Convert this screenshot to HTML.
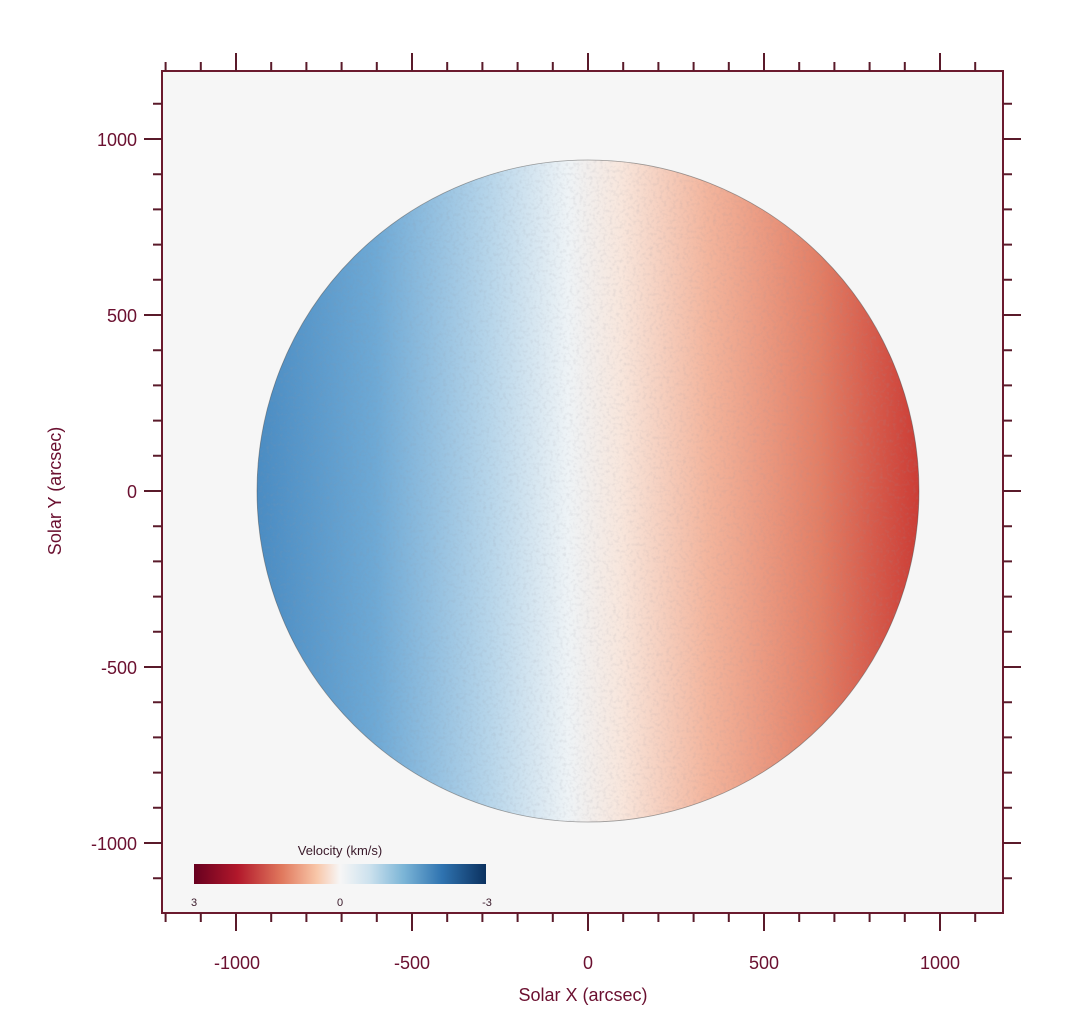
<!DOCTYPE html>
<html><head><meta charset="utf-8"><style>
html,body{margin:0;padding:0;background:#fff;}
svg{display:block;font-family:"Liberation Sans",sans-serif;}
</style></head><body>
<svg width="1080" height="1022" viewBox="0 0 1080 1022" xmlns="http://www.w3.org/2000/svg">
<defs>
<linearGradient id="sun" x1="256" y1="0" x2="920" y2="0" gradientUnits="userSpaceOnUse">
<stop offset="0" stop-color="#4a8cc3"/>
<stop offset="0.18" stop-color="#6ea9d5"/>
<stop offset="0.35" stop-color="#b6d5ea"/>
<stop offset="0.47" stop-color="#eef3f6"/>
<stop offset="0.55" stop-color="#f8e6dc"/>
<stop offset="0.68" stop-color="#f3b59d"/>
<stop offset="0.85" stop-color="#e27e65"/>
<stop offset="1" stop-color="#cc3c35"/>
</linearGradient>
<linearGradient id="cb" x1="0" x2="1">
<stop offset="0" stop-color="#67001f"/>
<stop offset="0.15" stop-color="#b2182b"/>
<stop offset="0.3" stop-color="#e0785d"/>
<stop offset="0.42" stop-color="#f8c6a8"/>
<stop offset="0.5" stop-color="#f7f6f6"/>
<stop offset="0.6" stop-color="#cde2ee"/>
<stop offset="0.72" stop-color="#7ab4d6"/>
<stop offset="0.85" stop-color="#2f73b0"/>
<stop offset="1" stop-color="#0b315f"/>
</linearGradient>
<filter id="noise" x="0" y="0" width="100%" height="100%">
<feTurbulence type="fractalNoise" baseFrequency="0.3" numOctaves="2" seed="3"/>
<feColorMatrix type="matrix" values="0 0 0 0 0.3  0 0 0 0 0.3  0 0 0 0 0.35  0 0 0 1.6 -0.75"/>
</filter>
<clipPath id="disk"><circle cx="588" cy="491" r="331"/></clipPath>
</defs>
<rect x="162" y="71" width="841" height="842" fill="#f6f6f6"/>
<circle cx="588" cy="491" r="331" fill="url(#sun)"/>
<g clip-path="url(#disk)" opacity="0.25">
<rect x="250" y="155" width="680" height="680" filter="url(#noise)"/>
</g>
<circle cx="588" cy="491" r="331" fill="none" stroke="#444" stroke-opacity="0.5" stroke-width="0.8"/>
<rect x="162" y="71" width="841" height="842" fill="none" stroke="#6b1a2e" stroke-width="2"/>
<g stroke="#5a1a2a" stroke-width="2" fill="none">
<path d="M165.6 71V62M200.8 71V62M236 71V53M271.2 71V62M306.4 71V62M341.6 71V62M376.8 71V62M412 71V53M447.2 71V62M482.4 71V62M517.6 71V62M552.8 71V62M588 71V53M623.2 71V62M658.4 71V62M693.6 71V62M728.8 71V62M764 71V53M799.2 71V62M834.4 71V62M869.6 71V62M904.8 71V62M940 71V53M975.2 71V62"/>
<path d="M165.6 913V922M200.8 913V922M236 913V931M271.2 913V922M306.4 913V922M341.6 913V922M376.8 913V922M412 913V931M447.2 913V922M482.4 913V922M517.6 913V922M552.8 913V922M588 913V931M623.2 913V922M658.4 913V922M693.6 913V922M728.8 913V922M764 913V931M799.2 913V922M834.4 913V922M869.6 913V922M904.8 913V922M940 913V931M975.2 913V922"/>
<path d="M162 103.8H153M162 139H144M162 174.2H153M162 209.4H153M162 244.6H153M162 279.8H153M162 315H144M162 350.2H153M162 385.4H153M162 420.6H153M162 455.8H153M162 491H144M162 526.2H153M162 561.4H153M162 596.6H153M162 631.8H153M162 667H144M162 702.2H153M162 737.4H153M162 772.6H153M162 807.8H153M162 843H144M162 878.2H153"/>
<path d="M1003 103.8H1012M1003 139H1021M1003 174.2H1012M1003 209.4H1012M1003 244.6H1012M1003 279.8H1012M1003 315H1021M1003 350.2H1012M1003 385.4H1012M1003 420.6H1012M1003 455.8H1012M1003 491H1021M1003 526.2H1012M1003 561.4H1012M1003 596.6H1012M1003 631.8H1012M1003 667H1021M1003 702.2H1012M1003 737.4H1012M1003 772.6H1012M1003 807.8H1012M1003 843H1021M1003 878.2H1012"/>
</g>
<g fill="#6b1030" font-size="18">
<text x="237" y="969" text-anchor="middle">-1000</text>
<text x="412" y="969" text-anchor="middle">-500</text>
<text x="588" y="969" text-anchor="middle">0</text>
<text x="764" y="969" text-anchor="middle">500</text>
<text x="940" y="969" text-anchor="middle">1000</text>
<text x="137" y="146" text-anchor="end">1000</text>
<text x="137" y="322" text-anchor="end">500</text>
<text x="137" y="498" text-anchor="end">0</text>
<text x="137" y="674" text-anchor="end">-500</text>
<text x="137" y="850" text-anchor="end">-1000</text>
<text x="583" y="1001" text-anchor="middle">Solar X (arcsec)</text>
<text transform="translate(61,491) rotate(-90)" text-anchor="middle">Solar Y (arcsec)</text>
</g>
<text x="340" y="855" text-anchor="middle" font-size="13" fill="#3a1a2a">Velocity (km/s)</text>
<rect x="194" y="864" width="292" height="20" fill="url(#cb)"/>
<g font-size="11" fill="#3a1a2a" text-anchor="middle">
<text x="194" y="906">3</text><text x="340" y="906">0</text><text x="487" y="906">-3</text>
</g>
</svg>
</body></html>
